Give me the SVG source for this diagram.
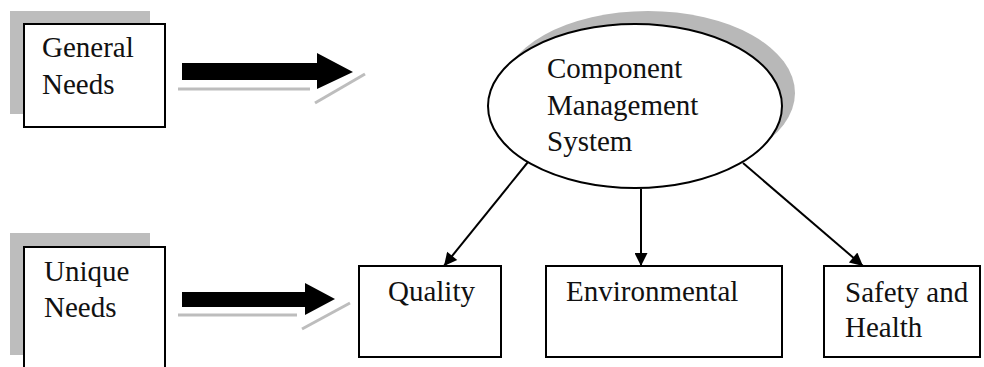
<svg xmlns="http://www.w3.org/2000/svg" width="984" height="367" viewBox="0 0 984 367">
<defs>
<style>
.box{fill:#fff;stroke:#000;stroke-width:2}
.shadow{fill:#bdbdbd;stroke:none}
.t{font-family:"Liberation Serif","Times New Roman",serif;font-size:29px;fill:#111}
.con{stroke:#000;stroke-width:2;fill:none}
.gray{stroke:#bdbdbd;stroke-width:3;fill:none}
.fat{fill:#000}
</style>
<marker id="ah" viewBox="0 0 10 10" refX="10" refY="5" markerWidth="17" markerHeight="13" markerUnits="userSpaceOnUse" orient="auto">
<path d="M0,0 L10,5 L0,10 z" fill="#000"/>
</marker>
</defs>
<rect width="984" height="367" fill="#fff"/>
<g id="general-needs">
<rect class="shadow" x="10" y="11" width="140" height="103"/>
<rect class="box" x="24" y="24" width="141" height="103"/>
<text class="t" x="42" y="57">General</text>
<text class="t" x="42" y="94">Needs</text>
</g>
<g id="unique-needs">
<rect class="shadow" x="10" y="233" width="140" height="122"/>
<rect class="box" x="24" y="247" width="141" height="130"/>
<text class="t" x="44" y="281">Unique</text>
<text class="t" x="44" y="317">Needs</text>
</g>
<g id="cms">
<ellipse cx="648" cy="93" rx="147" ry="82" fill="#b8b8b8"/>
<ellipse cx="635" cy="106" rx="147" ry="82" class="box"/>
<text class="t" x="547" y="78">Component</text>
<text class="t" x="547" y="115">Management</text>
<text class="t" x="547" y="151">System</text>
</g>
<g id="quality">
<rect class="box" x="359" y="266" width="142" height="91"/>
<text class="t" x="388" y="301">Quality</text>
</g>
<g id="environmental">
<rect class="box" x="546" y="266" width="236" height="91"/>
<text class="t" x="566" y="301">Environmental</text>
</g>
<g id="safety">
<rect class="box" x="824" y="266" width="156" height="91"/>
<text class="t" x="845" y="302">Safety and</text>
<text class="t" x="845" y="337">Health</text>
</g>
<g id="connectors">
<path class="fat" d="M182,63 H317 V53 L353,72 L317,89 V80 H182 z"/>
<line class="gray" x1="178" y1="89" x2="310" y2="89"/>
<line class="gray" x1="315" y1="103" x2="365" y2="74"/>
<path class="fat" d="M182,292 H305 V283 L335,299 L305,315 V307 H182 z"/>
<line class="gray" x1="178" y1="315" x2="297" y2="315"/>
<line class="gray" x1="302" y1="329" x2="350" y2="303"/>
<line class="con" x1="528" y1="162" x2="444" y2="266" marker-end="url(#ah)"/>
<line class="con" x1="641" y1="189" x2="641" y2="266" marker-end="url(#ah)"/>
<line class="con" x1="743" y1="163" x2="863" y2="266" marker-end="url(#ah)"/>
</g>
</svg>
